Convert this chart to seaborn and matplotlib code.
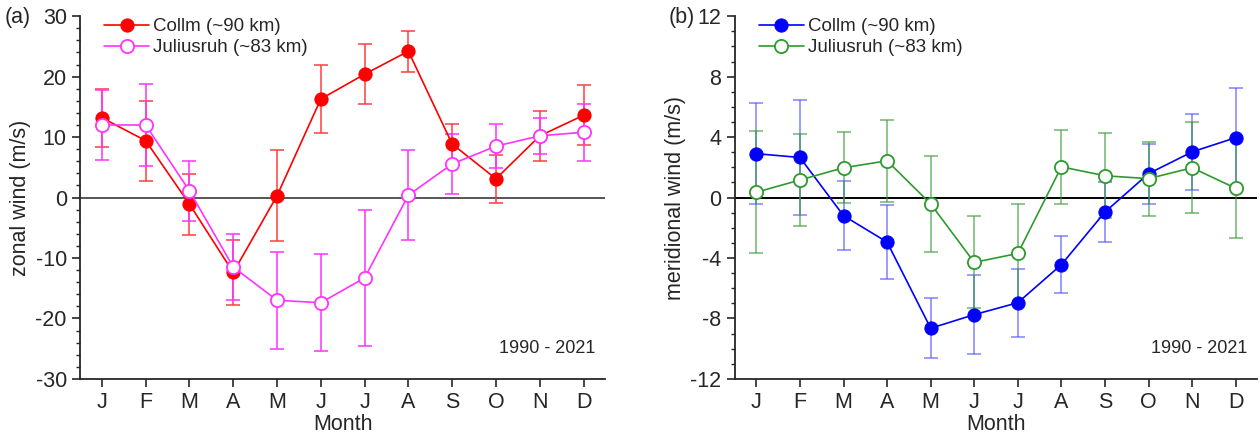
import numpy as np
import pandas as pd
import matplotlib
matplotlib.use("Agg")
import matplotlib.pyplot as plt
from matplotlib.ticker import MultipleLocator
import seaborn as sns

months = ["J", "F", "M", "A", "M", "J", "J", "A", "S", "O", "N", "D"]

# Panel (a): zonal wind
collm_u = [13.2, 9.4, -1.1, -12.4, 0.3, 16.3, 20.4, 24.2, 8.85, 3.1, 10.2, 13.6]
collm_u_err = [4.8, 6.6, 5.05, 5.3, 7.55, 5.7, 5.0, 3.4, 3.25, 3.95, 4.1, 4.95]
jul_u = [12.0, 12.0, 1.1, -11.5, -17.0, -17.4, -13.3, 0.4, 5.55, 8.5, 10.2, 10.8]
jul_u_err = [5.8, 6.85, 4.95, 5.4, 8.0, 8.0, 11.2, 7.5, 4.95, 3.6, 3.0, 4.75]

# Panel (b): meridional wind
collm_v = [2.9, 2.65, -1.2, -2.95, -8.65, -7.75, -6.96, -4.44, -0.96, 1.58, 3.02, 3.96]
collm_v_err = [3.35, 3.8, 2.3, 2.45, 2.0, 2.6, 2.25, 1.9, 2.0, 1.98, 2.53, 3.3]
jul_v = [0.35, 1.16, 1.97, 2.43, -0.42, -4.29, -3.7, 2.03, 1.44, 1.25, 1.97, 0.61]
jul_v_err = [4.05, 3.04, 2.36, 2.72, 3.2, 3.05, 3.28, 2.44, 2.8, 2.44, 3.0, 3.3]

sns.set_style("ticks")
plt.rcParams["font.family"] = ["Liberation Sans", "DejaVu Sans"]
plt.rcParams["axes.unicode_minus"] = False

fig = plt.figure(figsize=(12.6, 4.37), dpi=100)
ax1 = fig.add_axes([0.0635, 0.133, 0.417, 0.830])
ax2 = fig.add_axes([0.583, 0.133, 0.415, 0.830])

x = np.arange(12)

def draw(ax, y1, e1, c1, ec1, y2, e2, c2, ec2, zero_col):
    ax.axhline(0, color=zero_col, lw=1.4, zorder=1)
    ax.errorbar(x, y1, yerr=e1, fmt="none", ecolor=ec1, elinewidth=1.3,
                capsize=5, capthick=1.3, zorder=2)
    ax.errorbar(x, y2, yerr=e2, fmt="none", ecolor=ec2, elinewidth=1.3,
                capsize=5, capthick=1.3, zorder=3)
    d1 = pd.DataFrame({"m": x, "v": y1})
    d2 = pd.DataFrame({"m": x, "v": y2})
    sns.lineplot(data=d1, x="m", y="v", ax=ax, color=c1, lw=1.2, marker="o",
                 markersize=9.5, markerfacecolor=c1, markeredgecolor=c1,
                 label="Collm (~90 km)", zorder=4)
    sns.lineplot(data=d2, x="m", y="v", ax=ax, color=c2, lw=1.2, marker="o",
                 markersize=9.5, markerfacecolor="white", markeredgecolor=c2,
                 markeredgewidth=1.3, label="Juliusruh (~83 km)", zorder=5)
    ax.set_xlim(-0.5, 11.5)
    ax.set_xticks(x)
    ax.set_xticklabels(months)
    ax.set_xlabel("Month", fontsize=15.5, labelpad=1)
    ax.tick_params(axis="both", labelsize=15.5, direction="out", length=6, width=1.2)
    ax.tick_params(axis="y", which="minor", length=3, width=1)
    sns.despine(ax=ax)
    for s in ["left", "bottom"]:
        ax.spines[s].set_linewidth(1.3)
    ax.legend(loc="upper left", bbox_to_anchor=(0.025, 1.025), frameon=False,
              fontsize=13.5, handlelength=2.4, handletextpad=0.2,
              labelspacing=0.2, borderaxespad=0.2)
    ax.text(0.98, 0.085, "1990 - 2021", transform=ax.transAxes, ha="right",
            va="center", fontsize=13)

draw(ax1, collm_u, collm_u_err, "#ff0000", (1, 0.2, 0.2, 0.8),
     jul_u, jul_u_err, "#ff33ff", (1, 0.2, 1, 0.85), "#555555")
ax1.set_ylim(-30, 30)
ax1.yaxis.set_major_locator(MultipleLocator(10))
ax1.yaxis.set_minor_locator(MultipleLocator(2))
ax1.set_ylabel("zonal wind (m/s)", fontsize=15.5, labelpad=3)

draw(ax2, collm_v, collm_v_err, "#0000ff", (0.3, 0.3, 1, 0.6),
     jul_v, jul_v_err, "#2e9a2e", (0.2, 0.6, 0.2, 0.6), "#000000")
ax2.set_ylim(-12, 12)
ax2.yaxis.set_major_locator(MultipleLocator(4))
ax2.yaxis.set_minor_locator(MultipleLocator(1))
ax2.set_ylabel("meridional wind (m/s)", fontsize=15.5, labelpad=3)

fig.text(0.004, 0.96, "(a)", fontsize=15.5, va="center", ha="left")
fig.text(0.531, 0.96, "(b)", fontsize=15.5, va="center", ha="left")

fig.savefig("out.png", dpi=100)
